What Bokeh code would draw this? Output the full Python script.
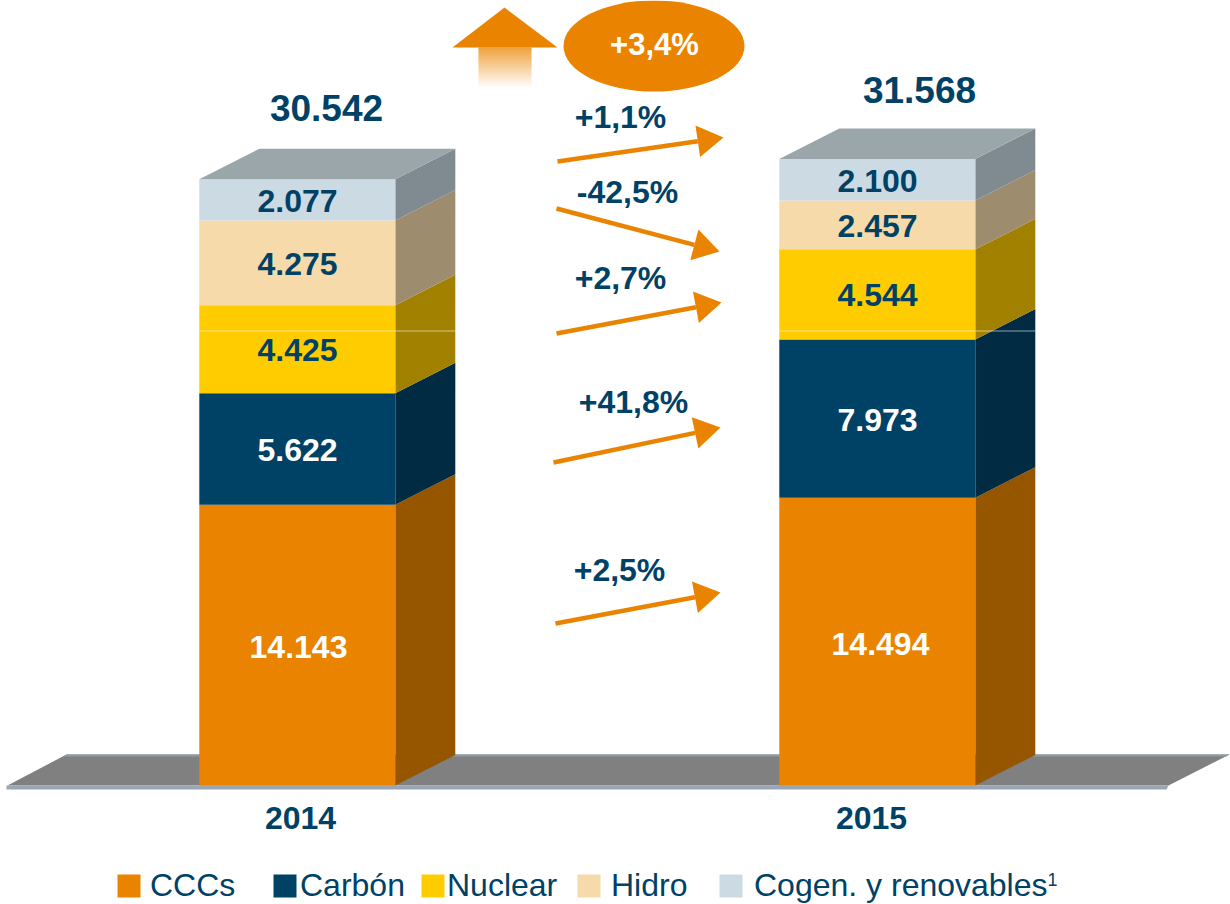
from bokeh.plotting import figure
from bokeh.models import Range1d
from bokeh.core.properties import value
from bokeh.embed import file_html
from bokeh.resources import INLINE

# ---- data ----
years = [2014, 2015]
series_names = ["CCCs", "Carbón", "Nuclear", "Hidro", "Cogen. y renovables"]
ccc = [14143, 14494]
carbon = [5622, 7973]
nuclear = [4425, 4544]
hidro = [4275, 2457]
cogen = [2077, 2100]
totals = [30542, 31568]
pct_total = "+3,4%"
pct_labels = ["+2,5%", "+41,8%", "+2,7%", "-42,5%", "+1,1%"]

front_colors = ["#EA8400", "#004166", "#FFCC00", "#F6DAAA", "#CCDAE4"]
side_colors = ["#965600", "#002B42", "#A38100", "#9E8C6E", "#808A91"]
top_color = "#9BA6AB"
navy = "#004166"
orange = "#EA8400"
FONT = value("Liberation Sans")

# ---- page geometry: reference pixels <-> data ----
W, H = 1230, 904
X0, PX_PER_YEAR = 296.8, 580.0
BASE, PX_PER_UNIT = 785.0, 0.01985


def dx(sx):
    return years[0] + (sx - X0) / PX_PER_YEAR


def dy(sy):
    return (BASE - sy) / PX_PER_UNIT


p = figure(width=W, height=H, output_backend="svg", toolbar_location=None,
           x_range=Range1d(dx(0), dx(W)), y_range=Range1d(dy(H), dy(0)),
           x_axis_type=None, y_axis_type=None, min_border=0,
           outline_line_color=None, background_fill_color="white",
           border_fill_color="white")
p.xgrid.visible = False
p.ygrid.visible = False


def poly(points, color, **kw):
    p.patch([dx(a) for a, _ in points], [dy(b) for _, b in points],
            fill_color=color, line_color=None, **kw)


def label(sx, sy, text, color=navy, size=32, bold=True, align="center"):
    anchor = sy - 0.36 * size
    p.text([dx(sx)], [dy(anchor)], text=[text], text_color=color,
           text_font=FONT, text_font_size=f"{size}px",
           text_font_style="bold" if bold else "normal",
           text_align=align, text_baseline="alphabetic")


# ---- floor ----
poly([(7, 785), (66, 754), (1229, 754), (1168, 785)], "#808080")
poly([(66, 754), (1229, 754), (1226, 756), (63, 756)], "#8D9CAB")
poly([(6, 785), (1168, 785), (1166, 789), (6, 789)], "#9AA5B5")

# ---- 3D stacked bars ----
BAR_W = 196 / PX_PER_YEAR
DEPTH_X = 60 / PX_PER_YEAR
DEPTH_Y = 30.5 / PX_PER_UNIT
stacks = [ccc, carbon, nuclear, hidro, cogen]

for i, year in enumerate(years):
    left, right = year - BAR_W / 2, year + BAR_W / 2
    bottom = 0
    for s, vals in enumerate(stacks):
        top = bottom + vals[i]
        p.patch([right, right + DEPTH_X, right + DEPTH_X, right],
                [bottom, bottom + DEPTH_Y, top + DEPTH_Y, top],
                fill_color=side_colors[s], line_color=None)
        p.quad(left=[left], right=[right], bottom=[bottom], top=[top],
               fill_color=front_colors[s], line_color=None)
        bottom = top
    p.patch([left, left + DEPTH_X, right + DEPTH_X, right],
            [bottom, bottom + DEPTH_Y, bottom + DEPTH_Y, bottom],
            fill_color=top_color, line_color=None)
    # thin pale seam crossing both bars
    p.line([left, right + DEPTH_X], [dy(330.5)] * 2, line_color="white",
           line_alpha=0.55, line_width=1)

# ---- value labels ----
def num(v):
    return f"{v:,}".replace(",", ".")


baselines = [[658, 461, 361, 275, 212], [655, 431, 306, 237, 192]]
centers = [[298, 297, 297, 297, 297], [880, 877, 877, 877, 877]]
for i in range(2):
    for s, vals in enumerate(stacks):
        color = "white" if s < 2 else navy
        label(centers[i][s], baselines[i][s], num(vals[i]), color=color)

label(326, 121, num(totals[0]), size=37)
label(919, 103, num(totals[1]), size=37)
label(300, 829, str(years[0]))
label(871, 829, str(years[1]))

# ---- big up arrow with fading shaft ----
poly([(504, 7), (557, 47), (452, 47)], orange)
rgb = (0xEA, 0x84, 0x00)
for k in range(41):
    t = k / 40
    c = "#%02X%02X%02X" % tuple(round(v + (255 - v) * t) for v in rgb)
    p.quad(left=[dx(478)], right=[dx(531)], top=[dy(47 + k)], bottom=[dy(48 + k)],
           fill_color=c, line_color=None)

# ---- oval with total growth ----
p.ellipse([dx(653.5)], [dy(45.5)], width=[181 / PX_PER_YEAR], height=[91 / PX_PER_UNIT],
          fill_color=orange, line_color=None)
label(654, 55, pct_total, color="white", size=31)

# ---- growth arrows and labels ----
arrows = [((555, 623), (720, 592)), ((553, 462), (720, 427)), ((556, 333), (721, 302)),
          ((556, 208), (719, 251)), ((557, 161), (723, 137))]
pct_pos = [(619, 581), (633, 413), (620, 289), (627, 203), (620, 128)]
for (a, b), txt, (lx, ly) in zip(arrows, pct_labels, pct_pos):
    ux, uy = b[0] - a[0], b[1] - a[1]
    n = (ux * ux + uy * uy) ** 0.5
    ux, uy = ux / n, uy / n
    bx, by = b[0] - 26 * ux, b[1] - 26 * uy
    p.line([dx(a[0]), dx(bx)], [dy(a[1]), dy(by)], line_color=orange, line_width=4.5)
    poly([b, (bx - uy * 16, by + ux * 16), (bx + uy * 16, by - ux * 16)], orange)
    label(lx, ly, txt)

# ---- legend ----
swatches = [117, 273, 421, 577, 719]
text_x = [149.5, 299.5, 446.5, 610.5, 753.5]
for sx, tx, name, c in zip(swatches, text_x, series_names, front_colors):
    p.quad(left=[dx(sx)], right=[dx(sx + 23)], top=[dy(874)], bottom=[dy(897)],
           fill_color=c, line_color=None)
    label(tx, 896, name, size=32, bold=False, align="left")
label(1047, 885, "1", size=18, bold=False, align="left")

open("out.html", "w").write(file_html(p, INLINE))
